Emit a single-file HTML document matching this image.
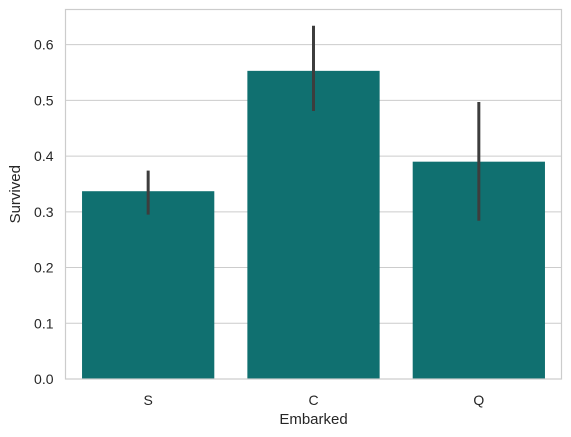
<!DOCTYPE html>
<html><head><meta charset="utf-8">
<style>
html,body{margin:0;padding:0;background:#fff;}
svg{display:block;font-family:"Liberation Sans",sans-serif;}
</style></head>
<body>
<svg id="chart" width="571" height="437"></svg>
<script>
const categories = ["S", "C", "Q"];
const survived = [0.337, 0.553, 0.390];
const ciLow = [0.295, 0.481, 0.284];
const ciHigh = [0.374, 0.634, 0.497];
const yTicks = [0.0, 0.1, 0.2, 0.3, 0.4, 0.5, 0.6];

const NS = "http://www.w3.org/2000/svg";
const svg = document.getElementById("chart");
const L = 65.5, R = 561.5, T = 9.5, B = 379;
const yMax = 0.6631;
function y(v){ return B - v / yMax * (B - T); }
const band = (R - L) / categories.length;
function xc(i){ return L + band * (i + 0.5); }
function mk(tag, attrs){ const e = document.createElementNS(NS, tag); for (const k in attrs) e.setAttribute(k, attrs[k]); svg.appendChild(e); return e; }

yTicks.forEach((t) => {
  const g = mk("line", {x1: L, x2: R, y1: y(t), y2: y(t), stroke: "#cccccc", "stroke-width": 1});
  
  
  const lb = mk("text", {x: L - 12, y: y(t) + 5, "text-anchor": "end", "font-size": 14, fill: "#262626"});
  lb.textContent = t.toFixed(1);
  
  
});

categories.forEach((c, i) => {
  const w = band * 0.8;
  const r = mk("rect", {x: xc(i) - w / 2, y: y(survived[i]), width: w, height: y(0) - y(survived[i]), fill: "#107070"});
  
  
  const e = mk("line", {x1: xc(i), x2: xc(i), y1: y(ciLow[i]), y2: y(ciHigh[i]), stroke: "#3d3d3d", "stroke-width": 3});
  
  
  const lb = mk("text", {x: xc(i), y: B + 26, "text-anchor": "middle", "font-size": 14, fill: "#262626"});
  lb.textContent = c;
  
  
});

const frame = mk("rect", {x: L, y: T, width: R - L, height: B - T, fill: "none", stroke: "#cccccc", "stroke-width": 1.2});



const xt = mk("text", {x: (L + R) / 2, y: 424, "text-anchor": "middle", "font-size": 15, fill: "#262626"});
xt.textContent = "Embarked";


const yt = mk("text", {x: 20, y: (T + B) / 2, "text-anchor": "middle", "font-size": 15, fill: "#262626", transform: "rotate(-90 20 " + ((T + B) / 2) + ")"});
yt.textContent = "Survived";


</script>
</body></html>
